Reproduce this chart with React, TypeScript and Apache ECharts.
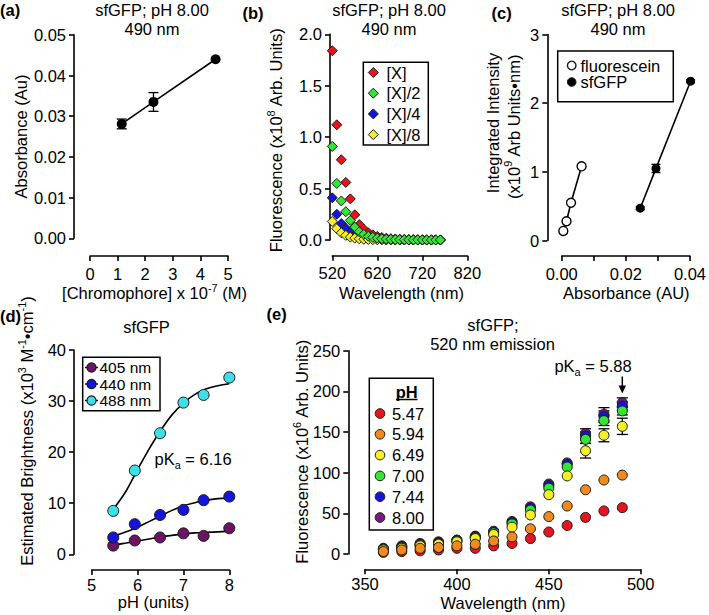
import { useEffect, useRef } from 'react';
import * as echarts from 'echarts';

const FONT = '"Liberation Sans", Arial, Helvetica, sans-serif';
const FS = 16.5;
const INK = '#000';

// (a) absorbance at 490 nm vs chromophore concentration (x10^-7 M)
const chromophoreConc = [1.15, 2.3, 4.55];
const absorbance490 = [0.0281, 0.0335, 0.044];
const absorbanceSd = [0.0012, 0.0023, 0];
const absTicks = [0, 0.01, 0.02, 0.03, 0.04, 0.05];
const concTicks = [0, 1, 2, 3, 4, 5];

// (b) emission spectra (x10^8 arb. units) for a two-fold dilution series
const emissionNm = [520, 530, 540, 550, 560, 570, 580, 590, 600, 610, 620, 630, 640, 650, 660, 670, 680, 690, 700, 710, 720, 730, 740, 750, 760];
const emX = [1.84, 1.12, 0.78, 0.56, 0.4, 0.245, 0.15, 0.105, 0.07, 0.05, 0.035, 0.025, 0.018, 0.013, 0.01, 0.008, 0.006, 0.005, 0.004, 0.003, 0.003, 0.002, 0.002, 0.002, 0.001];
const emX2 = [0.91, 0.55, 0.38, 0.275, 0.19, 0.125, 0.08, 0.055, 0.037, 0.026, 0.018, 0.013, 0.009, 0.007, 0.005, 0.004, 0.003, 0.002, 0.002, 0.002, 0.001, 0.001, 0.001, 0.001, 0.001];
const emX4 = [0.41, 0.25, 0.16, 0.115, 0.075, 0.048, 0.03, 0.02, 0.013, 0.009, 0.006, 0.004, 0.003, 0.002, 0.002, 0.001, 0.001, 0.001, 0.001, 0.001, 0, 0, 0, 0, 0];
const emX8 = [0.18, 0.11, 0.07, 0.045, 0.028, 0.018, 0.011, 0.007, 0.005, 0.003, 0.002, 0.002, 0.001, 0.001, 0.001, 0, 0, 0, 0, 0, 0, 0, 0, 0, 0];
const emissionTicks = [520, 620, 720, 820];
const fluorTicks = [0, 0.5, 1, 1.5, 2];

// (c) integrated intensity (x10^9 arb units*nm) vs absorbance
const fluoresceinAbs = [0.0005, 0.0015, 0.0029, 0.0062];
const fluoresceinInt = [0.14, 0.28, 0.55, 1.08];
const sfgfpAbs = [0.0245, 0.0294, 0.0402];
const sfgfpInt = [0.47, 1.05, 2.32];
const sfgfpIntSd = [0.02, 0.06, 0.02];
const absTicksC = [0, 0.01, 0.02, 0.03, 0.04];
const absLabelsC = [0, 0.02, 0.04];
const intTicks = [0, 1, 2, 3];

// (d) estimated brightness (x10^3 M-1 cm-1) vs pH, with fitted titration curves
const brightnessPH = [5.47, 5.94, 6.49, 7.0, 7.44, 8.0];
const bright405 = [1.7, 2.7, 3.3, 4.1, 3.6, 5.1];
const bright440 = [3.3, 5.9, 7.7, 8.7, 10.6, 11.3];
const bright488 = [8.5, 16.4, 23.7, 29.7, 31.2, 34.6];
const fitPH = [5.47, 5.75, 6.0, 6.25, 6.5, 6.75, 7.0, 7.25, 7.5, 7.75, 8.0];
const fit405 = [1.8, 2.2, 2.6, 3.0, 3.4, 3.7, 4.0, 4.2, 4.3, 4.4, 4.5];
const fit440 = [3.5, 4.4, 5.3, 6.4, 7.5, 8.6, 9.5, 10.1, 10.6, 10.9, 11.0];
const fit488 = [8.8, 12.4, 16.6, 20.6, 24.2, 27.3, 29.6, 31.3, 32.4, 33.0, 33.4];
const phTicks = [5, 6, 7, 8];
const brightTicks = [0, 10, 20, 30, 40];

// (e) excitation spectra (x10^6 arb. units), 520 nm emission, at six pH values
const excitationNm = [360, 370, 380, 390, 400, 410, 420, 430, 440, 450, 460, 470, 480, 490];
const exc547 = [2, 3, 4, 5, 7, 7, 10, 13, 19, 27, 35, 45, 53, 57];
const exc594 = [3, 5, 7, 8, 10, 12, 16, 21, 31, 46, 59, 79, 91, 97];
const exc649 = [5, 7, 10, 12, 15, 19, 24, 33, 48, 73, 96, 127, 146, 157];
const exc700 = [6, 8, 11, 13, 16, 20, 26, 37, 54, 81, 107, 141, 164, 176];
const exc744 = [6, 9, 12, 14, 17, 21, 27, 39, 56, 84, 110, 145, 169, 182];
const exc800 = [7, 10, 13, 15, 17, 22, 28, 40, 58, 86, 112, 148, 172, 186];
const sd649 = [0, 0, 0, 0, 0, 0, 0, 0, 0, 0, 0, 9, 8, 10];
const sd700 = [0, 0, 0, 0, 0, 0, 0, 0, 0, 0, 0, 5, 6, 5];
const sd744 = [0, 0, 0, 0, 0, 0, 0, 0, 0, 0, 0, 5, 7, 5];
const sd800 = [0, 0, 0, 0, 0, 0, 0, 0, 0, 0, 0, 6, 8, 6];
const excTicks = [350, 400, 450, 500];
const excFluorTicks = [0, 50, 100, 150, 200, 250];
const phLevels = ['5.47', '5.94', '6.49', '7.00', '7.44', '8.00'];

const C_RED = '#e8141b';
const C_ORANGE = '#f08a1e';
const C_YELLOW = '#f6ee26';
const C_GREEN = '#35e535';
const C_BLUE = '#1414dc';
const C_PURPLE = '#761a7e';
const C_CYAN = '#3ee0e8';
const C_DPURPLE = '#6a1463';

// plot rectangles and axis-line offsets (GraphPad-style detached axes)
const grids = [
  { left: 90, top: 34.8, width: 138, height: 203.5 },
  { left: 332.3, top: 34.3, width: 135, height: 205.7 },
  { left: 561.7, top: 34.5, width: 130, height: 206 },
  { left: 91.7, top: 350, width: 137.6, height: 204.3 },
  { left: 365, top: 350.7, width: 275.7, height: 203.3 },
];
const yOffsets = [16, 2.3, 14.4, 17.7, 16.7];
const xOffsets = [17.7, 15.7, 15.5, 15.7, 15.3];
const xLabelMargins = [9, 9, 9, 6.5, 6.5];

const lineStyle = { color: INK, width: 1.6 };

function axis(i: number, dim: 'x' | 'y', ticks: number[], labels: number[], fmt: (v: number) => string) {
  return {
    type: 'value',
    gridIndex: i,
    position: dim === 'x' ? 'bottom' : 'left',
    offset: dim === 'x' ? xOffsets[i] : yOffsets[i],
    min: ticks[0],
    max: ticks[ticks.length - 1],
    axisLine: { show: true, onZero: false, lineStyle },
    axisTick: { show: true, inside: false, length: 5, lineStyle, customValues: ticks },
    axisLabel: {
      show: true,
      color: INK,
      fontFamily: FONT,
      fontSize: FS,
      margin: dim === 'x' ? xLabelMargins[i] : 8,
      customValues: labels,
      formatter: (v: number) => fmt(v),
    },
    splitLine: { show: false },
  };
}

function errorBars(i: number, xs: number[], ys: number[], sd: number[], cap: number) {
  const data = xs
    .map((x, k) => [x, ys[k] - sd[k], ys[k] + sd[k], sd[k]])
    .filter((d) => d[3] > 0);
  return {
    type: 'custom',
    xAxisIndex: i,
    yAxisIndex: i,
    silent: true,
    clip: false,
    z: 1,
    encode: { x: 0, y: [1, 2] },
    data,
    renderItem: (_p: any, api: any) => {
      const lo = api.coord([api.value(0), api.value(1)]);
      const hi = api.coord([api.value(0), api.value(2)]);
      const st = { stroke: INK, lineWidth: 1.3 };
      return {
        type: 'group',
        children: [
          { type: 'line', shape: { x1: lo[0], y1: lo[1], x2: hi[0], y2: hi[1] }, style: st },
          { type: 'line', shape: { x1: lo[0] - cap, y1: lo[1], x2: lo[0] + cap, y2: lo[1] }, style: st },
          { type: 'line', shape: { x1: hi[0] - cap, y1: hi[1], x2: hi[0] + cap, y2: hi[1] }, style: st },
        ],
      };
    },
  };
}

const pairs = (xs: number[], ys: number[]) => xs.map((x, k) => [x, ys[k]]);

function scatter(i: number, name: string, xs: number[], ys: number[], color: string, symbol: string, size: number, z = 3) {
  return {
    type: 'scatter',
    name,
    xAxisIndex: i,
    yAxisIndex: i,
    data: pairs(xs, ys),
    symbol,
    symbolSize: size,
    clip: false,
    z,
    itemStyle: { color, borderColor: '#1a1a1a', borderWidth: 1, opacity: 1 },
  };
}

function rich(fs: number) {
  return {
    n: { fontSize: fs, fontFamily: FONT, fill: INK, lineHeight: 22 },
    sup: { fontSize: fs * 0.66, fontFamily: FONT, fill: INK, lineHeight: 14, verticalAlign: 'top' },
    sub: { fontSize: fs * 0.66, fontFamily: FONT, fill: INK, lineHeight: 12, verticalAlign: 'bottom' },
  };
}

function text(x: number, y: number, t: string, o: any = {}) {
  return {
    type: 'text',
    x,
    y,
    rotation: o.rotation || 0,
    z: 20,
    silent: true,
    style: {
      text: t,
      fill: INK,
      fontFamily: FONT,
      fontSize: o.fontSize || FS,
      fontWeight: o.bold ? 'bold' : 'normal',
      align: o.align || 'center',
      verticalAlign: 'middle',
      rich: o.rich ? rich(o.fontSize || FS) : undefined,
    },
  };
}

function box(x: number, y: number, w: number, h: number) {
  return { type: 'rect', z: 15, silent: true, shape: { x, y, width: w, height: h }, style: { fill: '#fff', stroke: INK, lineWidth: 1.5 } };
}

function diamond(cx: number, cy: number, r: number, color: string) {
  return {
    type: 'polygon',
    z: 21,
    silent: true,
    shape: { points: [[cx - r, cy], [cx, cy - r], [cx + r, cy], [cx, cy + r]] },
    style: { fill: color, stroke: '#1a1a1a', lineWidth: 1 },
  };
}

function dot(cx: number, cy: number, r: number, color: string, width = 1) {
  return { type: 'circle', z: 21, silent: true, shape: { cx, cy, r }, style: { fill: color, stroke: '#1a1a1a', lineWidth: width } };
}

function seg(x1: number, y1: number, x2: number, y2: number, w = 1.6) {
  return { type: 'line', z: 21, silent: true, shape: { x1, y1, x2, y2 }, style: { stroke: INK, lineWidth: w } };
}

function buildOption() {
  const f2 = (v: number) => v.toFixed(2);
  const f1 = (v: number) => v.toFixed(1);
  const f0 = (v: number) => String(Math.round(v));

  const xAxes = [
    axis(0, 'x', concTicks, concTicks, f0),
    axis(1, 'x', emissionTicks, emissionTicks, f0),
    axis(2, 'x', absTicksC, absLabelsC, f2),
    axis(3, 'x', phTicks, phTicks, f0),
    axis(4, 'x', excTicks, excTicks, f0),
  ];
  const yAxes = [
    axis(0, 'y', absTicks, absTicks, f2),
    axis(1, 'y', fluorTicks, fluorTicks, f1),
    axis(2, 'y', intTicks, intTicks, f0),
    axis(3, 'y', brightTicks, brightTicks, f0),
    axis(4, 'y', excFluorTicks, excFluorTicks, f0),
  ];

  const series: any[] = [
    // (a)
    errorBars(0, chromophoreConc, absorbance490, absorbanceSd, 5),
    {
      type: 'line',
      xAxisIndex: 0,
      yAxisIndex: 0,
      data: pairs(chromophoreConc, absorbance490),
      symbol: 'circle',
      symbolSize: 10,
      clip: false,
      z: 2,
      itemStyle: { color: INK },
      lineStyle,
    },
    // (b)
    scatter(1, '[X]', emissionNm, emX, C_RED, 'diamond', 10),
    scatter(1, '[X]/4', emissionNm, emX4, C_BLUE, 'diamond', 10),
    scatter(1, '[X]/8', emissionNm, emX8, C_YELLOW, 'diamond', 10),
    scatter(1, '[X]/2', emissionNm, emX2, C_GREEN, 'diamond', 10),
    // (c)
    {
      type: 'line',
      xAxisIndex: 2,
      yAxisIndex: 2,
      data: pairs(fluoresceinAbs, fluoresceinInt),
      symbol: 'circle',
      symbolSize: 9,
      clip: false,
      z: 2,
      itemStyle: { color: '#fff', borderColor: INK, borderWidth: 1.4 },
      lineStyle,
    },
    errorBars(2, sfgfpAbs, sfgfpInt, sfgfpIntSd, 4.5),
    {
      type: 'line',
      xAxisIndex: 2,
      yAxisIndex: 2,
      data: pairs(sfgfpAbs, sfgfpInt),
      symbol: 'circle',
      symbolSize: 9,
      clip: false,
      z: 2,
      itemStyle: { color: INK },
      lineStyle,
    },
    // (d) fitted curves, then measured points
    ...[fit405, fit440, fit488].map((fit) => ({
      type: 'line',
      xAxisIndex: 3,
      yAxisIndex: 3,
      data: pairs(fitPH, fit),
      smooth: 0.35,
      showSymbol: false,
      symbol: 'none',
      clip: false,
      z: 2,
      lineStyle,
    })),
    scatter(3, '405 nm', brightnessPH, bright405, C_DPURPLE, 'circle', 11),
    scatter(3, '440 nm', brightnessPH, bright440, C_BLUE, 'circle', 11),
    scatter(3, '488 nm', brightnessPH, bright488, C_CYAN, 'circle', 11),
    // (e) error bars beneath the symbols
    errorBars(4, excitationNm, exc649, sd649, 5.5),
    errorBars(4, excitationNm, exc700, sd700, 5.5),
    errorBars(4, excitationNm, exc744, sd744, 5.5),
    errorBars(4, excitationNm, exc800, sd800, 5.5),
    scatter(4, '5.47', excitationNm, exc547, C_RED, 'circle', 10),
    scatter(4, '8.00', excitationNm, exc800, C_PURPLE, 'circle', 10),
    scatter(4, '7.44', excitationNm, exc744, C_BLUE, 'circle', 10),
    scatter(4, '7.00', excitationNm, exc700, C_GREEN, 'circle', 10),
    scatter(4, '6.49', excitationNm, exc649, C_YELLOW, 'circle', 10),
    scatter(4, '5.94', excitationNm, exc594, C_ORANGE, 'circle', 10),
  ];

  const phColors = [C_RED, C_ORANGE, C_YELLOW, C_GREEN, C_BLUE, C_PURPLE];
  const bLegend = [
    ['[X]', C_RED],
    ['[X]/2', C_GREEN],
    ['[X]/4', C_BLUE],
    ['[X]/8', C_YELLOW],
  ];
  const dLegend = [
    ['405 nm', C_DPURPLE],
    ['440 nm', C_BLUE],
    ['488 nm', C_CYAN],
  ];

  const graphics: any[] = [
    // panel letters
    text(0, 9.5, '(a)', { bold: true, align: 'left' }),
    text(242.5, 12.5, '(b)', { bold: true, align: 'left' }),
    text(491.5, 12.5, '(c)', { bold: true, align: 'left' }),
    text(0, 316, '(d)', { bold: true, align: 'left' }),
    text(266.5, 314, '(e)', { bold: true, align: 'left' }),

    // (a)
    text(152, 10, 'sfGFP; pH 8.00'),
    text(152, 28.5, '490 nm'),
    text(20.5, 136.5, 'Absorbance (Au)', { rotation: Math.PI / 2 }),
    text(154.5, 293, '{n|[Chromophore] x 10}{sup|-7}{n| (M)}', { rich: true }),

    // (b)
    text(389, 10, 'sfGFP; pH 8.00'),
    text(389, 28.5, '490 nm'),
    text(276, 140, '{n|Fluorescence (x10}{sup|8}{n| Arb. Units)}', { rotation: Math.PI / 2, rich: true }),
    text(401.5, 293, 'Wavelength (nm)'),
    box(363.3, 62.3, 65, 82.7),
    ...bLegend.flatMap(([label, color], k) => [
      diamond(373.3, 72.5 + k * 20.7, 5, color),
      text(386.5, 72.5 + k * 20.7, label, { align: 'left' }),
    ]),

    // (c)
    text(618, 10, 'sfGFP; pH 8.00'),
    text(618, 28.5, '490 nm'),
    text(493, 123, 'Integrated Intensity', { rotation: Math.PI / 2 }),
    text(513.5, 126.5, '{n|(x10}{sup|9}{n| Arb Units\u2022nm)}', { rotation: Math.PI / 2, rich: true }),
    text(626.3, 293, 'Absorbance (AU)'),
    box(557.7, 51, 115.6, 50.7),
    dot(571.7, 65.5, 4.3, '#fff', 1.4),
    text(580.5, 65.5, 'fluorescein', { align: 'left' }),
    dot(571.7, 82, 4.3, INK, 1),
    text(580.5, 82, 'sfGFP', { align: 'left' }),

    // (d)
    text(146.5, 327, 'sfGFP'),
    text(27, 431, '{n|Estimated Brightness (x10}{sup|3}{n| M}{sup|-1}{n|\u2022cm}{sup|-1}{n|)}', {
      rotation: Math.PI / 2,
      rich: true,
    }),
    text(153.5, 602, 'pH (units)'),
    text(154.5, 459, '{n|pK}{sub|a}{n| = 6.16}', { rich: true, align: 'left' }),
    box(82.7, 357.3, 77.3, 53.4),
    ...dLegend.flatMap(([label, color], k) => [
      seg(85, 367.5 + k * 16.5, 98, 367.5 + k * 16.5, 1.4),
      dot(91.5, 367.5 + k * 16.5, 4.6, color, 1.2),
      text(99.5, 367.5 + k * 16.5, label, { align: 'left', fontSize: 15.5 }),
    ]),

    // (e)
    text(493, 325, 'sfGFP;'),
    text(492.5, 343.5, '520 nm emission'),
    text(302, 451.5, '{n|Fluorescence (x10}{sup|6}{n| Arb. Units)}', { rotation: Math.PI / 2, rich: true }),
    text(503, 603, 'Wavelength (nm)'),
    text(593, 366, '{n|pK}{sub|a}{n| = 5.88}', { rich: true }),
    seg(622.3, 376.5, 622.3, 387, 1.5),
    {
      type: 'polygon',
      z: 21,
      silent: true,
      shape: { points: [[618.6, 385.5], [626, 385.5], [622.3, 393.5]] },
      style: { fill: INK },
    },
    box(369.3, 378.3, 64, 151.7),
    text(406.7, 391.5, 'pH', { bold: true }),
    seg(396, 399.5, 417.5, 399.5, 1.5),
    ...phLevels.flatMap((label, k) => [
      dot(380, 413.5 + k * 20.8, 4.8, phColors[k], 1),
      text(392, 413.5 + k * 20.8, label, { align: 'left' }),
    ]),
  ];

  return {
    animation: false,
    backgroundColor: '#fff',
    textStyle: { fontFamily: FONT },
    grid: grids.map((g) => ({ ...g, containLabel: false })),
    xAxis: xAxes,
    yAxis: yAxes,
    series,
    graphic: { elements: graphics },
  };
}

export default function App() {
  const ref = useRef<HTMLDivElement>(null);

  useEffect(() => {
    if (!ref.current) return;
    const chart = echarts.init(ref.current, undefined, { renderer: 'svg' });
    chart.setOption(buildOption() as any);
    return () => chart.dispose();
  }, []);

  return (
    <div
      ref={ref}
      style={{ position: 'fixed', left: 0, top: 0, width: 709, height: 615, background: '#fff' }}
    />
  );
}
